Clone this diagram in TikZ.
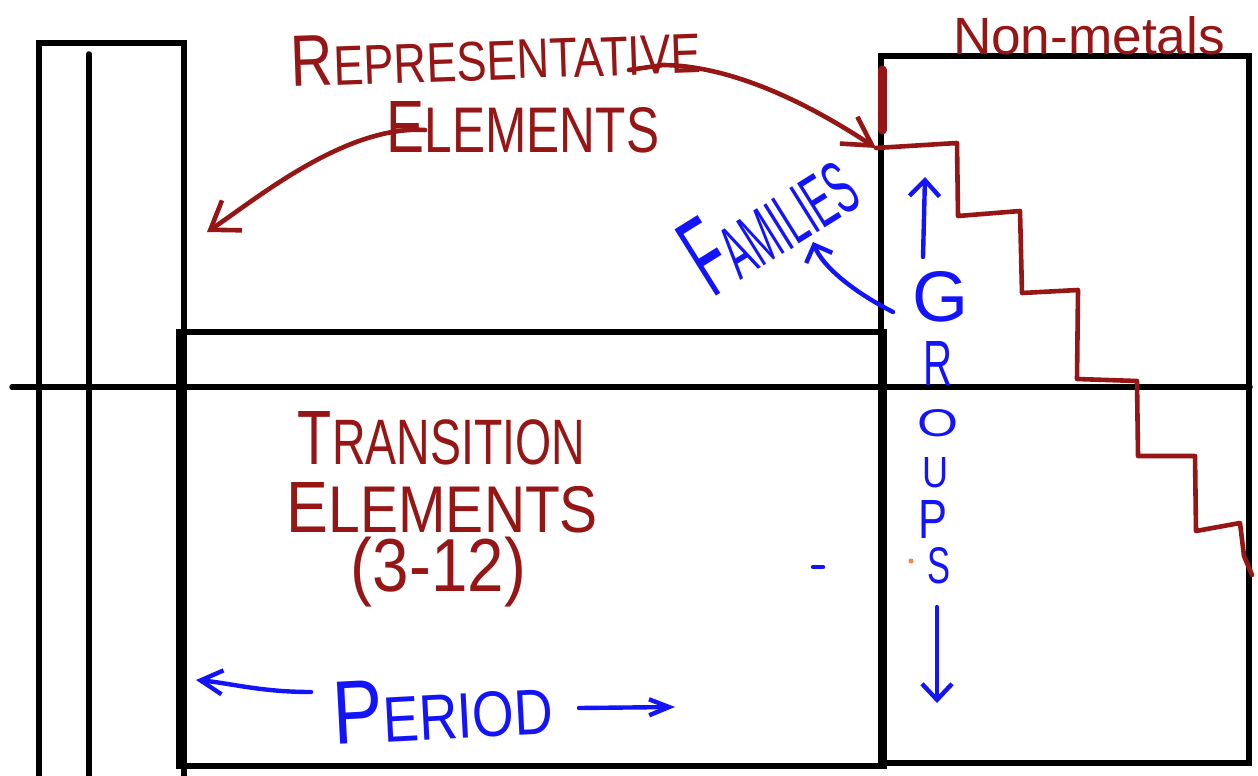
\documentclass[tikz,border=0pt]{standalone}
\usepackage{fontspec}
\setmainfont{Liberation Sans}
\usepackage{graphicx}
\usetikzlibrary{arrows.meta}
\definecolor{inkred}{RGB}{150,22,22}
\definecolor{inkblue}{RGB}{20,20,250}
\definecolor{inkorange}{RGB}{245,130,70}
\newcommand{\hw}[3]{\resizebox{#1pt}{#2pt}{#3}}
\newcommand{\hwt}[3]{\resizebox*{#1pt}{#2pt}{#3}}
\newcommand{\fs}[1]{\fontsize{#1}{#1}\selectfont}
\begin{document}
\begin{tikzpicture}[x=1pt,y=1pt,
  frame/.style={draw=black,line width=5.5pt},
  redink/.style={draw=inkred,line width=4.6pt,line cap=round,line join=round},
  blueink/.style={draw=inkblue,line width=4.4pt,line cap=round,line join=round},
  hand/.style={inner sep=0pt,outer sep=0pt},
  barb/.style 2 args={-{Straight Barb[length=#1pt,width=#2pt]}},
]
\path[use as bounding box] (0,0) rectangle (1258,-776);
\fill[white] (0,0) rectangle (1258,-776);

% black table outline
\draw[frame] (39,-776) -- (39,-43) -- (184,-43) -- (184,-776);
\draw[frame,line cap=round] (89,-54) -- (89,-776);
\draw[frame,line cap=round] (12,-387) -- (1250,-387);
\draw[frame] (179,-766) rectangle (884,-332);
\draw[frame] (881,-56) rectangle (1249,-763);

% staircase (metal / non-metal line)
\coordinate (stairtop) at (876,-148);
\draw[redink] (stairtop) -- (957,-143) -- (958,-216) -- (1020,-211) -- (1022,-293)
  -- (1078,-290) -- (1077,-379) -- (1137,-381) -- (1138,-456) -- (1195,-456)
  -- (1196,-531) -- (1240,-523) -- (1244,-556) -- (1252,-575);
\draw[draw=inkred,line width=9pt,line cap=round] (882,-70) -- (882,-130);

% red texts
\node[hand,text=inkred,rotate=2] (rep) at (496,-55)
  {\hw{410}{50}{{\fs{13}R}{\fs{10}EPRESENTATIVE}}};
\node[hand,text=inkred] (repel) at (523,-127.5)
  {\hw{272}{51}{{\fs{11.5}E}{\fs{10}LEMENTS}}};
\node[hand,text=inkred] (nonmet) at (1089,-36) {\hw{272}{38}{Non-metals}};
\node[hand,text=inkred] (trans) at (441.5,-438.5)
  {\hw{287}{53}{{\fs{12}T}{\fs{10}RANSITION}}};
\node[hand,text=inkred] (transel) at (442.5,-508)
  {\hw{311}{50}{{\fs{11}E}{\fs{10}LEMENTS}}};
\node[hand,text=inkred] (range) at (438.5,-572) {\hwt{175}{70}{(3-12)}};

% red arrows
\coordinate (reptail) at (629,-70);
\draw[redink,barb={28}{32}] (reptail) -- (663,-65)
  .. controls (745,-66) and (830,-118) .. (stairtop);
\coordinate (lefttail) at (425,-130);
\coordinate (lefttip) at (207,-232);
\draw[redink,barb={26}{36}] (lefttail) .. controls (345,-125) and (255,-200) .. (lefttip);

% blue texts
\node[hand,text=inkblue,rotate=32] (fam) at (768,-218)
  {\hw{180}{78}{{\fs{15}F}{\fs{10}AMILIES}}};
\node[hand,text=inkblue] (gG) at (940,-297) {\hw{56}{50}{G}};
\node[hand,text=inkblue] (gR) at (937.5,-363) {\hw{29}{44}{R}};
\node[hand,text=inkblue] (gO) at (937.5,-423.5) {\hw{41}{27}{O}};
\node[hand,text=inkblue] (gU) at (935,-473) {\hw{26}{30}{U}};
\node[hand,text=inkblue] (gP) at (932.5,-519) {\hw{29}{38}{P}};
\node[hand,text=inkblue] (gS) at (938.5,-566) {\hw{23}{36}{S}};
\node[hand,text=inkblue,rotate=3] (period) at (442.5,-708.5)
  {\hw{220}{62}{{\fs{14}P}{\fs{10}ERIOD}}};

% blue arrows
\coordinate (famtail) at (893,-312);
\coordinate (famtip) at (813,-242);
\draw[blueink,barb={14}{28}] (famtail) .. controls (850,-290) and (822,-265) .. (famtip);
\coordinate (uptail) at (923,-257);
\coordinate (uptip) at (925,-177);
\draw[blueink,barb={16}{30}] (uptail) -- (uptip);
\coordinate (dntail) at (937,-607);
\coordinate (dntip) at (937,-703);
\draw[blueink,barb={16}{30}] (dntail) -- (dntip);
\coordinate (pltail) at (311,-692);
\coordinate (pltip) at (196,-680);
\draw[blueink,barb={22}{24}] (pltail) .. controls (260,-692) and (230,-683) .. (pltip);
\coordinate (prtail) at (579,-708);
\coordinate (prtip) at (675,-707);
\draw[blueink,barb={20}{16}] (prtail) -- (prtip);

% stray marks
\draw[blueink] (813,-567) -- (823,-567);
\fill[inkorange] (911,-561) circle (2.5);
\end{tikzpicture}
\end{document}
